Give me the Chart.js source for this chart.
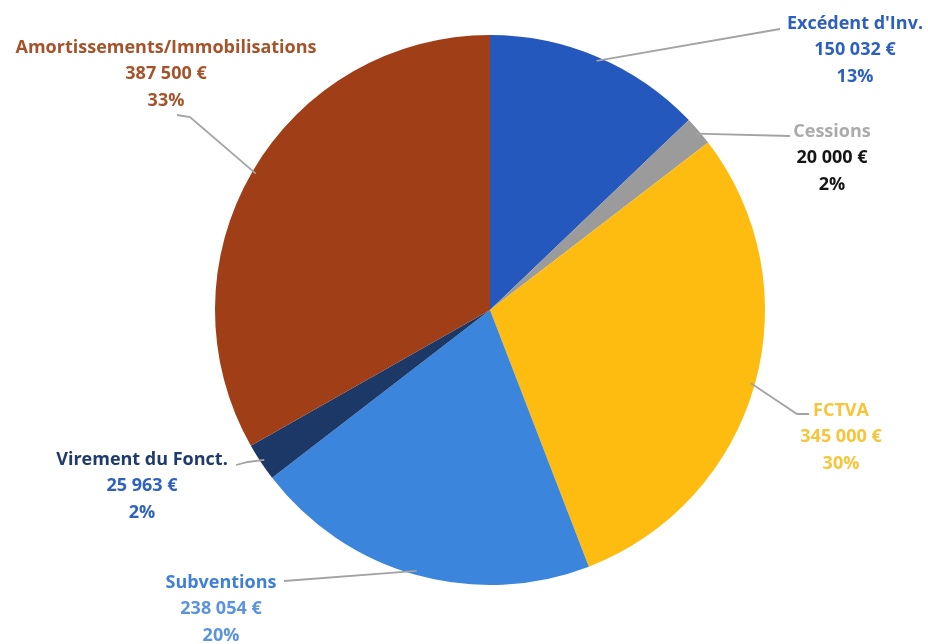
<!DOCTYPE html>
<html lang="fr">
<head>
  <meta charset="UTF-8">
  <title>Recettes d'investissement</title>
  <script src="https://cdn.jsdelivr.net/npm/chart.js"></script>
  <style>
    body { margin: 0; background: #fff; }
    .box-graf { width: 928px; height: 644px; position: relative; }
  </style>
</head>
<body>
  <div class="box-graf">
    <canvas id="grafRecettes"></canvas>
  </div>

<script>
  // recettes d'investissement
  const categories = ["Excédent d'Inv.", 'Cessions', 'FCTVA', 'Subventions', 'Virement du Fonct.', 'Amortissements/Immobilisations']
  const montants = [150032, 20000, 345000, 238054, 25963, 387500]

  const couleursParts = ['#2458bd', '#9b9b9b', '#fdbc0f', '#3b85dc', '#1c3867', '#9f3e17']
  const couleursNom = ['#2c5fbf', '#ababab', '#f7c53a', '#3f7fd6', '#1f3b6b', '#a5532b']
  const couleursValeur = ['#2c5fbf', '#151515', '#f7c53a', '#5b93de', '#2f62c0', '#a5532b']

  // position des étiquettes + coudes des traits de rappel
  const etiquettes = [
    { x: 855, y: 24, trait: [[780, 29]] },
    { x: 832, y: 132, trait: [[790, 136]] },
    { x: 841, y: 411, trait: [[797, 414], [809, 414]] },
    { x: 221, y: 583, trait: [[284, 581]] },
    { x: 142, y: 460, trait: [[248, 462], [236, 465]] },
    { x: 166, y: 48, trait: [[190, 117], [177, 115]] }
  ]

  const total = montants.reduce((a, b) => a + b, 0)

  function formatEuro(v) {
    return String(v).replace(/\B(?=(\d{3})+(?!\d))/g, ' ') + ' €'
  }

  const pluginEtiquettes = {
    id: 'etiquettes',
    afterDatasetsDraw(chart) {
      const ctx = chart.ctx
      const arcs = chart.getDatasetMeta(0).data
      ctx.save()
      arcs.forEach(function (arc, i) {
        const p = arc.getProps(['x', 'y', 'startAngle', 'endAngle', 'outerRadius'], true)
        const milieu = (p.startAngle + p.endAngle) / 2
        const et = etiquettes[i]

        // trait de rappel
        ctx.strokeStyle = '#a3a3a3'
        ctx.lineWidth = 1.8
        ctx.beginPath()
        ctx.moveTo(p.x + Math.cos(milieu) * (p.outerRadius - 4), p.y + Math.sin(milieu) * (p.outerRadius - 4))
        et.trait.forEach(function (pt) { ctx.lineTo(pt[0], pt[1]) })
        ctx.stroke()

        // texte
        ctx.textAlign = 'center'
        ctx.textBaseline = 'middle'
        ctx.font = 'bold 18px "Open Sans"'
        ctx.fillStyle = couleursNom[i]
        ctx.fillText(categories[i], et.x, et.y)
        ctx.fillStyle = couleursValeur[i]
        ctx.fillText(formatEuro(montants[i]), et.x, et.y + 26)
        ctx.fillText(Math.round(montants[i] / total * 100) + '%', et.x, et.y + 53)
      })
      ctx.restore()
    }
  }

  const ctx = document.getElementById('grafRecettes').getContext('2d')
  new Chart(ctx, {
    type: 'pie',
    data: {
      labels: categories,
      datasets: [{
        data: montants,
        backgroundColor: couleursParts,
        borderWidth: 0
      }]
    },
    options: {
      responsive: true,
      maintainAspectRatio: false,
      animation: false,
      layout: {
        padding: { left: 215, right: 163, top: 35, bottom: 59 }
      },
      plugins: {
        legend: { display: false },
        tooltip: { enabled: false }
      }
    },
    plugins: [pluginEtiquettes]
  })
</script>
</body>
</html>
